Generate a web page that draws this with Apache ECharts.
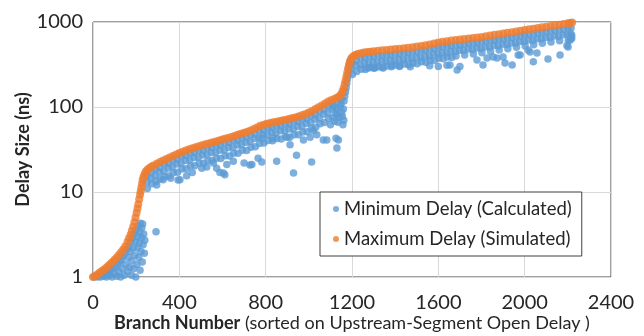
<!DOCTYPE html>
<html>
<head>
<meta charset="utf-8">
<script src="https://cdn.jsdelivr.net/npm/echarts@6/dist/echarts.min.js"></script>
<style>
  html, body { margin: 0; padding: 0; background: #fff; }
  #chart { width: 644px; height: 336px; }
</style>
</head>
<body>
<div id="chart"></div>
<script>
const xTicks = [0, 400, 800, 1200, 1600, 2000, 2400];
const yTicks = [1, 10, 100, 1000];
const seriesNames = ['Minimum Delay (Calculated)', 'Maximum Delay (Simulated)'];

// orange: simulated max delay, [branch, ns]
const maxDelay = [
  [0,1.0],[10,1.03],[20,1.07],[30,1.12],[40,1.17],[50,1.22],[60,1.28],[70,1.35],[80,1.42],[90,1.5],
  [100,1.6],[110,1.7],[120,1.82],[130,1.95],[140,2.1],[150,2.3],[160,2.6],[167,2.85],[174,3.15],[180,3.5],
  [186,3.9],[192,4.4],[197,5.0],[202,5.7],[206,6.4],[210,7.2],[214,8.2],[218,9.3],[221,10.2],[224,11.3],
  [227,12.5],[230,13.8],[234,15.0],[239,16.3],[245,17.4],[252,18.3],[260,19.0],[270,19.8],[280,20.5],[295,21.5],
  [310,22.5],[325,23.5],[340,24.5],[355,25.5],[370,26.6],[385,27.7],[400,28.8],[415,29.8],[430,30.8],[445,31.8],
  [460,32.8],[475,33.7],[490,34.6],[505,35.5],[520,36.4],[535,37.3],[550,38.2],[565,39.1],[580,40.1],[595,41.1],
  [610,42.2],[625,43.3],[640,44.5],[655,45.7],[670,47.0],[685,48.3],[700,49.7],[715,51.2],[730,53],[745,55],
  [760,57.5],[775,60],[790,62],[805,63.5],[820,64.8],[835,66],[850,67.2],[865,68.4],[880,69.7],[895,71],
  [910,72.5],[925,74.2],[940,76],[955,78],[970,80.5],[985,83],[1000,86],[1015,90],[1030,94.5],[1045,99],
  [1060,104],[1075,110],[1090,116],[1105,121],[1120,125],[1132,129],[1142,134],[1150,141],[1156,152],[1161,166],
  [1166,185],[1170,205],[1174,228],[1178,255],[1182,285],[1186,315],[1190,343],[1195,365],[1200,382],[1208,398],
  [1216,410],[1226,420],[1240,430],[1255,437],[1270,443],[1285,448],[1300,453],[1320,459],[1340,464],[1360,469],
  [1380,474],[1400,480],[1420,486],[1440,492],[1460,499],[1480,506],[1500,514],[1520,523],[1540,533],[1560,545],
  [1580,560],[1600,575],[1620,586],[1640,595],[1660,604],[1680,613],[1700,622],[1720,631],[1740,640],[1760,649],
  [1780,658],[1800,668],[1820,680],[1840,694],[1860,707],[1880,718],[1900,730],[1920,745],[1940,760],[1960,775],
  [1980,790],[2000,805],[2020,820],[2040,835],[2060,850],[2080,866],[2100,881],[2120,897],[2140,913],[2160,930],
  [2180,947],[2200,965],[2210,975],[2220,985]
];

// blue: low branches, cloud under the first rise
const minLow = [
  [5,1.0],[12,1.02],[20,1.0],[28,1.05],[35,1.0],[42,1.08],[50,1.02],[55,1.12],[62,1.0],[68,1.15],
  [75,1.05],[80,1.2],[88,1.0],[92,1.25],[98,1.1],[105,1.3],[110,1.02],[115,1.4],[120,1.15],[125,1.5],
  [128,1.0],[132,1.6],[136,1.25],[140,1.75],[145,1.05],[148,1.9],[152,1.4],[156,2.1],[160,1.15],[163,1.7],
  [166,2.3],[170,1.3],[172,2.0],[175,2.6],[178,1.05],[180,1.55],[183,2.9],[186,2.2],[188,1.25],[190,3.2],
  [193,1.8],[196,2.6],[198,1.0],[200,3.6],[203,1.4],[205,2.2],[207,3.0],[210,4.0],[212,1.7],[214,2.5],
  [216,3.4],[218,1.2],[220,4.3],[222,2.0],[224,2.9],[226,3.8],[228,1.5],[230,4.2],[232,2.4],[235,3.2],
  [238,1.9],[240,2.7]
];

// blue: band below the orange curve, 240..1200
const minMid = [
  [250,15.5],[250,13.2],[252,11.0],[270,17.2],[268,14.6],[272,12.5],[290,18.8],[288,15.6],[292,13.4],
  [310,19.6],[308,17.1],[312,14.2],[330,21.2],[328,17.6],[332,15.1],[350,22.0],[348,19.2],[352,15.4],
  [370,23.6],[368,19.8],[372,16.8],[390,24.4],[388,21.3],[392,17.1],[410,26.2],[408,21.8],[412,18.6],
  [430,26.9],[428,23.4],[432,18.8],[450,28.5],[448,23.8],[452,20.3],[470,29.1],[468,25.4],[472,20.4],
  [490,30.7],[488,25.7],[492,21.9],[510,31.2],[508,27.3],[512,21.8],[530,32.9],[528,27.5],[532,23.3],
  [550,33.3],[548,29.1],[552,23.4],[570,35.0],[568,29.2],[572,24.9],[590,35.6],[588,31.0],[592,24.8],
  [610,37.5],[608,31.3],[612,26.7],[630,38.1],[628,33.3],[632,26.6],[650,40.3],[648,33.5],[652,28.6],
  [670,41.0],[668,35.8],[672,28.5],[690,43.3],[688,36.1],[692,30.9],[710,44.2],[708,38.6],[712,30.8],
  [730,47.0],[728,39.2],[732,33.6],[750,48.6],[748,42.5],[752,34.0],[770,52.4],[768,43.6],[772,37.3],
  [790,54.0],[788,47.2],[792,37.8],[810,56.8],[808,47.2],[812,40.4],[830,57.1],[828,50.0],[832,40.0],
  [850,59.7],[848,49.6],[852,42.6],[870,59.9],[868,52.4],[872,41.9],[890,62.7],[888,52.2],[892,44.7],
  [910,63.2],[908,55.2],[912,44.2],[930,66.4],[928,55.2],[932,47.3],[950,67.3],[948,58.9],[952,47.0],
  [970,71.5],[968,59.5],[972,50.9],[990,73.2],[988,64.0],[992,51.2],[1010,78.8],[1008,65.5],[1012,56.0],
  [1030,82.4],[1028,72.0],[1032,57.6],[1050,89.4],[1048,74.3],[1052,63.6],[1070,94.0],[1068,82.2],[1072,65.9],
  [1090,103],[1088,85.6],[1092,73.4],[1110,107.7],[1108,94.1],[1112,75.4],[1130,113.7],[1128,94.5],[1132,81.0],
  [1150,122.8],[1148,107.4],[1152,86.0],
  [1140,75],[1145,100],[1135,66],[1155,78],[1160,95],[1163,118],[1166,134],[1170,150],[1173,168],[1176,190],
  [1179,215],[1182,245],[1185,275],[1188,305],[1191,330],[1194,350],[1158,62],[1162,70],[1120,68],[1100,62],
  [1115,100],[1125,84]
];

// blue: band below the orange curve, 1200..2220
const minHigh = [
  [1200,332],[1198,282],[1202,242],[1220,358],[1218,310],[1222,262],[1240,377],[1238,315],[1242,278],
  [1260,379],[1258,329],[1262,276],[1280,391],[1278,326],[1282,289],[1300,391],[1298,339],[1302,285],
  [1320,402],[1318,336],[1322,298],[1340,401],[1338,347],[1342,292],[1360,411],[1358,343],[1362,304],
  [1380,409],[1378,355],[1382,298],[1400,421],[1398,351],[1402,311],[1420,420],[1418,364],[1422,306],
  [1440,431],[1438,360],[1442,320],[1460,431],[1458,374],[1462,314],[1480,443],[1478,370],[1482,329],
  [1500,444],[1498,385],[1502,323],[1520,458],[1518,382],[1522,341],[1540,461],[1538,399],[1542,335],
  [1560,477],[1558,398],[1562,355],[1580,484],[1578,419],[1582,352],[1600,503],[1598,421],[1602,374],
  [1620,507],[1618,439],[1622,369],[1640,521],[1638,435],[1642,387],[1660,522],[1658,452],[1662,381],
  [1680,536],[1678,449],[1682,398],[1700,538],[1698,466],[1720,552],[1718,461],[1722,410],
  [1740,554],[1738,480],[1760,568],[1758,474],[1762,421],[1780,569],[1778,493],
  [1800,584],[1798,488],[1802,434],[1820,589],[1818,509],[1840,607],[1838,508],[1842,451],
  [1860,612],[1858,529],[1880,628],[1878,525],[1882,467],[1900,632],[1898,546],
  [1920,651],[1918,545],[1922,484],[1940,658],[1938,568],[1960,677],[1958,568],[1962,503],
  [1980,684],[1978,591],[2000,703],[1998,590],[2002,522],[2020,710],[2018,613],
  [2040,729],[2038,612],[2042,541],[2060,737],[2058,636],[2080,756],[2078,634],[2082,562],
  [2100,763],[2098,659],[2120,783],[2118,657],[2122,582],[2140,791],[2138,683],
  [2160,812],[2158,681],[2162,603],[2180,821],[2178,708],[2200,843],[2198,707],[2202,612],
  [2215,852],[2213,728],[2218,640]
];

// blue: scattered points well below the band
const minOutliers = [
  [295,12.1],[292,3.4],[325,13.9],[360,14.5],[394,13.8],[403,13.9],[434,15.5],[460,17],[504,19],[527,19.7],
  [558,22],[573,19],[588,17],[604,16.7],[611,16],[620,21],[650,23],[700,22],[727,20.8],[736,21],[765,25],
  [782,22.5],[783,43],[834,43],[851,23],[900,44],[913,36],[929,16.7],[943,27],[975,41],[1006,44],
  [1013,22.5],[1021,53],[1037,47],[1067,41],[1083,41],[1130,33],[1137,41],[1126,43],
  [1270,288],[1307,290],[1344,288],[1298,292],[1385,305],[1420,300],[1470,298],[1560,305],[1600,300],
  [1640,310],[1654,313],[1687,272],[1700,300],[1779,357],[1807,313],[1826,377],[1854,388],[1872,377],
  [1900,388],[1909,330],[1942,313],[1970,410],[1979,410],[2016,468],[2025,445],[2040,340],[2057,433],
  [2108,367],[2164,410],[2196,530],[2201,508],[2210,610],[2218,700],[2215,650]
];

const minDelay = minLow.concat(minMid, minHigh, minOutliers);

const font = 'Lato, "Noto Sans", sans-serif';
const chart = echarts.init(document.getElementById('chart'));
chart.setOption({
  animation: false,
  grid: {
    left: 93,
    right: 33,
    top: 22,
    bottom: 59,
    outerBoundsMode: 'none',
    show: true,
    borderColor: '#404040',
    borderWidth: 1,
  },
  legend: {
    data: seriesNames,
    orient: 'vertical',
    left: 320,
    top: 192,
    icon: 'circle',
    itemWidth: 6,
    itemHeight: 6,
    itemGap: 10,
    itemTextGap: 9,
    padding: [7, 10, 7, 13],
    backgroundColor: '#fff',
    borderColor: '#404040',
    borderWidth: 1,
    borderRadius: 0,
    textStyle: { fontFamily: font, fontSize: 18.5, lineHeight: 20, color: '#262626' },
  },
  xAxis: {
    type: 'value',
    min: 0,
    max: 2400,
    interval: 400,
    name: '{b|Branch Number} (sorted on Upstream-Segment Open Delay )',
    nameLocation: 'middle',
    nameGap: 37,
    nameMoveOverlap: false,
    nameTextStyle: {
      fontFamily: font,
      fontSize: 18,
      color: '#262626',
      rich: { b: { fontFamily: font, fontSize: 18, fontWeight: 'bold', color: '#262626' } },
    },
    axisLine: { show: false },
    axisTick: { show: false },
    axisLabel: {
      fontFamily: font, fontSize: 20, color: '#262626', margin: 16,
      formatter: v => (xTicks.indexOf(v) >= 0 ? String(v) : ''),
    },
    splitLine: { lineStyle: { color: '#d9d9d9', width: 1 } },
  },
  yAxis: {
    type: 'log',
    logBase: 10,
    min: 1,
    max: 1000,
    name: 'Delay Size (ns)',
    nameLocation: 'middle',
    nameGap: 61,
    nameMoveOverlap: false,
    nameTextStyle: { fontFamily: font, fontSize: 18, fontWeight: 'bold', color: '#262626' },
    axisLine: { show: false },
    axisTick: { show: false },
    axisLabel: {
      fontFamily: font, fontSize: 20, color: '#262626', margin: 10,
      formatter: v => (yTicks.indexOf(v) >= 0 ? String(v) : ''),
    },
    splitLine: { lineStyle: { color: '#d9d9d9', width: 1 } },
    minorSplitLine: { show: false },
  },
  series: [
    {
      name: seriesNames[0],
      type: 'scatter',
      symbol: 'circle',
      symbolSize: 7.5,
      clip: false,
      itemStyle: { color: '#5b9bd5' },
      data: minDelay,
    },
    {
      name: seriesNames[1],
      type: 'scatter',
      symbol: 'circle',
      symbolSize: 8,
      clip: false,
      itemStyle: { color: '#ed7d31' },
      data: maxDelay,
    },
  ],
});
</script>
</body>
</html>
